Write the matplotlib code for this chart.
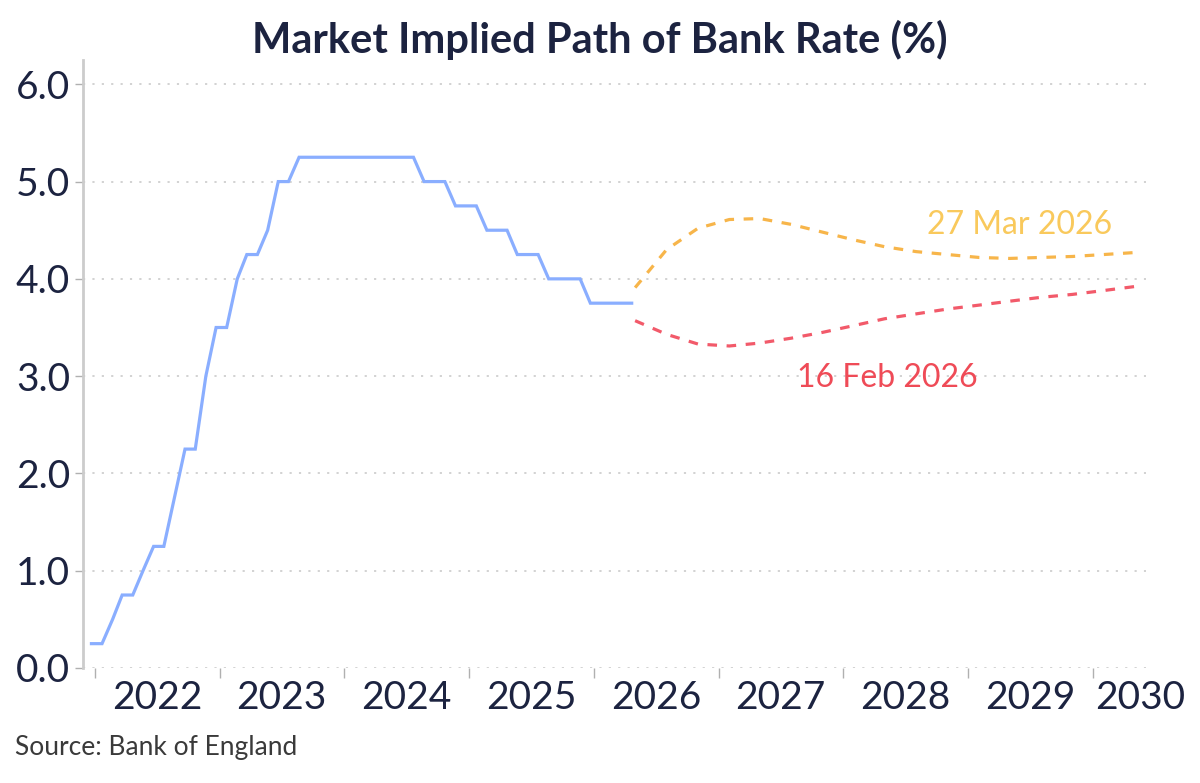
import matplotlib
matplotlib.use("Agg")
import matplotlib.pyplot as plt
import pandas as pd

# Bank Rate, month-end values from Dec 2021
blue_rate = [0.25, 0.25, 0.5, 0.75, 0.75, 1.0, 1.25, 1.25, 1.75, 2.25, 2.25, 3.0,
             3.5, 3.5, 4.0, 4.25, 4.25, 4.5, 5.0, 5.0, 5.25, 5.25, 5.25, 5.25,
             5.25, 5.25, 5.25, 5.25, 5.25, 5.25, 5.25, 5.25, 5.0, 5.0, 5.0, 4.75,
             4.75, 4.75, 4.5, 4.5, 4.5, 4.25, 4.25, 4.25, 4.0, 4.0, 4.0, 4.0,
             3.75, 3.75, 3.75, 3.75, 3.75]

# market implied paths, quarterly from May 2026
mar_path = [3.91, 4.30, 4.52, 4.61, 4.62, 4.56, 4.48, 4.40, 4.33, 4.28, 4.25,
            4.22, 4.21, 4.22, 4.23, 4.25, 4.27]
feb_path = [3.57, 3.43, 3.33, 3.31, 3.34, 3.39, 3.45, 3.52, 3.59, 3.64, 3.69,
            3.73, 3.77, 3.81, 3.84, 3.88, 3.92]

years = list(range(2022, 2031))
y_ticks = [0, 1, 2, 3, 4, 5, 6]

blue_dates = pd.date_range("2021-12-01", periods=len(blue_rate), freq="MS") + pd.Timedelta(days=20)
path_dates = pd.date_range("2026-05-01", periods=len(mar_path), freq="3MS")

navy = "#1c2340"
blue = "#8aaeff"
orange = "#f7b54a"
red = "#f25a6a"

plt.rcParams["font.family"] = ["Lato", "DejaVu Sans"]

fig = plt.figure(figsize=(12, 7.83), dpi=100)
ax = fig.add_axes([0.0688, 0.1469, 0.8862, 0.7765])

ax.plot(blue_dates, blue_rate, color=blue, lw=2.3, solid_joinstyle="miter")
ax.plot(path_dates, mar_path, color=orange, lw=2.3, linestyle=(0, (3, 3)))
ax.plot(path_dates, feb_path, color=red, lw=2.3, linestyle=(0, (3, 3)))

ax.text(pd.Timestamp("2029-06-01"), 4.55, "27 Mar 2026", color="#f9c95c",
        fontsize=23, ha="center", va="center")
ax.text(pd.Timestamp("2028-05-08"), 2.98, "16 Feb 2026", color="#ef4b57",
        fontsize=23, ha="center", va="center")

ax.set_xlim(pd.Timestamp("2021-11-25"), pd.Timestamp("2030-06-05"))
ax.set_ylim(0, 6.25)

ax.set_yticks(y_ticks)
ax.set_yticklabels([f"{v:.1f}" for v in y_ticks])
ax.grid(axis="y", color="#cfcfcf", lw=1.3, linestyle=(0, (1.2, 4)))

# year boundaries as ticks, labels in between
ax.set_xticks([pd.Timestamp(f"{y}-01-01") for y in years])
ax.set_xticklabels([])
label_dates = [pd.Timestamp(f"{y}-07-01") for y in years[:-1]] + [pd.Timestamp("2030-05-18")]
ax.set_xticks(label_dates, minor=True)
ax.set_xticklabels([str(y) for y in years], minor=True)
ax.tick_params(axis="x", which="major", length=7, width=1, color="#b0b0b0")
ax.tick_params(axis="x", which="minor", length=0, pad=9, labelsize=28, labelcolor=navy)
ax.tick_params(axis="y", length=6, width=1, color="#b0b0b0", labelsize=28, labelcolor=navy, pad=3)

for s in ["top", "right", "bottom"]:
    ax.spines[s].set_visible(False)
ax.spines["left"].set_color("#cccccc")
ax.spines["left"].set_linewidth(2)

fig.text(0.5, 0.949, "Market Implied Path of Bank Rate (%)", ha="center", va="center",
         fontsize=30, fontweight="bold", color=navy)
fig.text(0.0125, 0.045, "Source: Bank of England", ha="left", va="center",
         fontsize=19, color="#3a3a3a")

fig.savefig("out.png", dpi=100)
